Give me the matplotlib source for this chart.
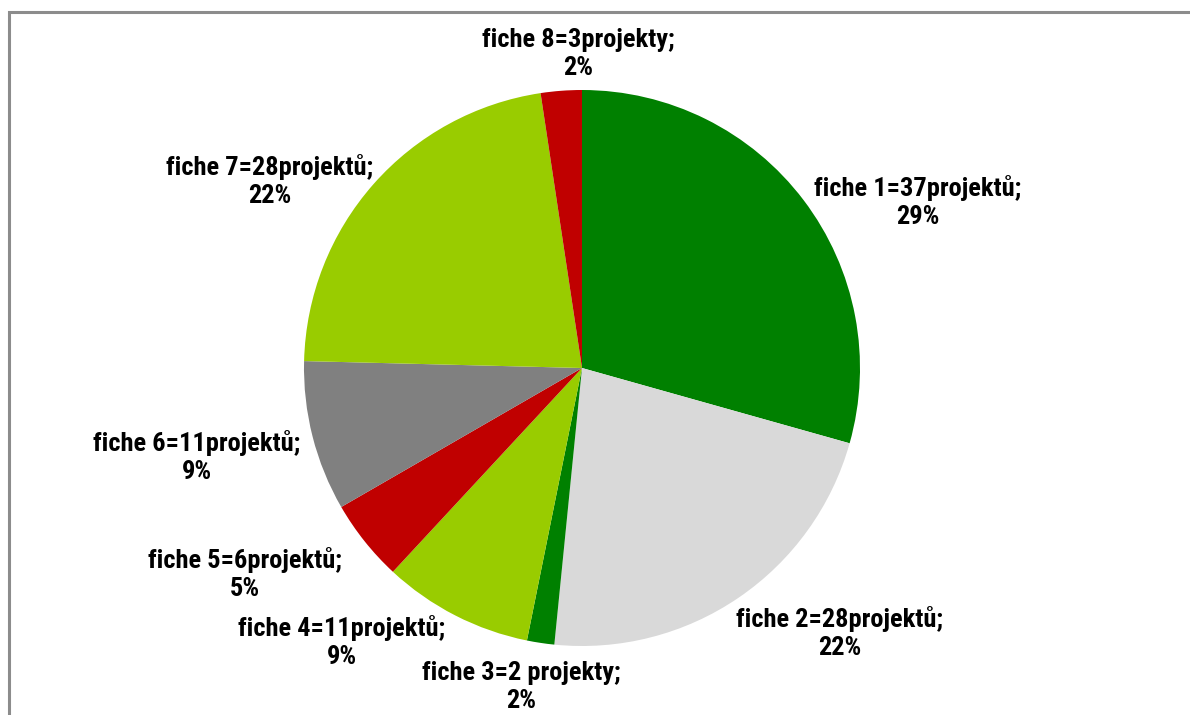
import matplotlib
matplotlib.use("Agg")
import matplotlib.pyplot as plt
from matplotlib.patches import Rectangle

categories = ["fiche 1=37projektů", "fiche 2=28projektů", "fiche 3=2 projekty",
              "fiche 4=11projektů", "fiche 5=6projektů", "fiche 6=11projektů",
              "fiche 7=28projektů", "fiche 8=3projekty"]
values = [37, 28, 2, 11, 6, 11, 28, 3]
colors = ["#008000", "#D9D9D9", "#008000", "#99CC00", "#C00000", "#808080", "#99CC00", "#C00000"]

# label centre positions in pixel coordinates (x, y from top)
label_pos = [(918, 202), (840, 633), (521, 687), (342, 642), (245, 574), (197, 457), (270, 181), (578, 54)]

W, H = 1190, 715
fig = plt.figure(figsize=(W / 100, H / 100), dpi=100)
ax = fig.add_axes([0, 0, 1, 1])

cx, cy, r = 582, H - 368, 278
ax.pie(values, colors=colors, startangle=90, counterclock=False,
       center=(cx, cy), radius=r, frame=True,
       wedgeprops=dict(linewidth=0))
ax.set_xlim(0, W)
ax.set_ylim(0, H)
ax.set_aspect("equal")
ax.axis("off")

total = sum(values)
font = ["Roboto Condensed", "Archivo Narrow", "DejaVu Sans"]
for cat, v, (px, py) in zip(categories, values, label_pos):
    txt = f"{cat};\n{round(v / total * 100)}%"
    ax.text(px, H - py, txt, ha="center", va="center", fontsize=19,
            fontweight="bold", family=font, linespacing=1.25, color="black")

# chart border (only left and top visible in crop)
ax.add_patch(Rectangle((8.5, -20), W + 50, H - 11.5 + 20, fill=False,
                       edgecolor="#8C8C8C", linewidth=2.2, clip_on=False))

fig.savefig("out.png", dpi=100)
